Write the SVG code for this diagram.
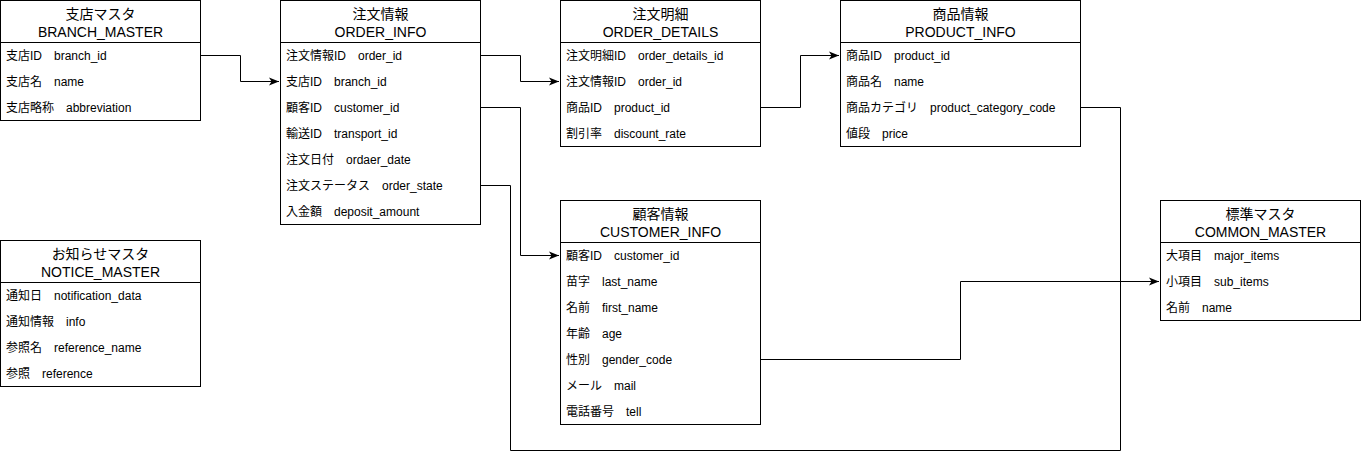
<svg xmlns="http://www.w3.org/2000/svg" width="1361" height="459" viewBox="0 0 1361 459">
<style>
.box{fill:#fff;stroke:#000;stroke-width:1}
.sep{stroke:#000;stroke-width:1}
.t{font-family:"Liberation Sans","Noto Sans CJK JP",sans-serif;font-size:12px;fill:#000}
.h{text-anchor:middle;font-size:14px}
.c{fill:none;stroke:#000;stroke-width:1}
</style>
<defs>
<marker id="arr" viewBox="0 0 10 10" refX="10" refY="5" markerWidth="10" markerHeight="10" markerUnits="userSpaceOnUse" orient="auto">
<path d="M0,1 L10,5 L0,9 L2.5,5 Z" fill="#000"/>
</marker>
</defs>
<rect width="1361" height="459" fill="#fff"/>
<g id="connectors">
<path class="c" d="M200.5,55.5 H240.5 V81.5 H279" marker-end="url(#arr)"/>
<path class="c" d="M480.5,55.5 H520.5 V81.5 H559" marker-end="url(#arr)"/>
<path class="c" d="M480.5,107.5 H520.5 V255.5 H559" marker-end="url(#arr)"/>
<path class="c" d="M760.5,107.5 H800.5 V55.5 H839" marker-end="url(#arr)"/>
<path class="c" d="M480.5,185.5 H510.5 V450.5 H1120.5 V107.5 H1080.5"/>
<path class="c" d="M760.5,359.5 H960.5 V281.5 H1159" marker-end="url(#arr)"/>
</g>
<g id="branch_master">
<rect class="box" x="0.5" y="0.5" width="200" height="120"/>
<line class="sep" x1="0.5" y1="42.5" x2="200.5" y2="42.5"/>
<text class="t h" x="100.5" y="19">支店マスタ</text>
<text class="t h" x="100.5" y="36.5">BRANCH_MASTER</text>
<text class="t" x="6" y="60">支店ID　branch_id</text>
<text class="t" x="6" y="86">支店名　name</text>
<text class="t" x="6" y="112">支店略称　abbreviation</text>
</g>
<g id="order_info">
<rect class="box" x="280.5" y="0.5" width="200" height="224"/>
<line class="sep" x1="280.5" y1="42.5" x2="480.5" y2="42.5"/>
<text class="t h" x="380.5" y="19">注文情報</text>
<text class="t h" x="380.5" y="36.5">ORDER_INFO</text>
<text class="t" x="286" y="60">注文情報ID　order_id</text>
<text class="t" x="286" y="86">支店ID　branch_id</text>
<text class="t" x="286" y="112">顧客ID　customer_id</text>
<text class="t" x="286" y="138">輸送ID　transport_id</text>
<text class="t" x="286" y="164">注文日付　ordaer_date</text>
<text class="t" x="286" y="190">注文ステータス　order_state</text>
<text class="t" x="286" y="216">入金額　deposit_amount</text>
</g>
<g id="order_details">
<rect class="box" x="560.5" y="0.5" width="200" height="146"/>
<line class="sep" x1="560.5" y1="42.5" x2="760.5" y2="42.5"/>
<text class="t h" x="660.5" y="19">注文明細</text>
<text class="t h" x="660.5" y="36.5">ORDER_DETAILS</text>
<text class="t" x="566" y="60">注文明細ID　order_details_id</text>
<text class="t" x="566" y="86">注文情報ID　order_id</text>
<text class="t" x="566" y="112">商品ID　product_id</text>
<text class="t" x="566" y="138">割引率　discount_rate</text>
</g>
<g id="product_info">
<rect class="box" x="840.5" y="0.5" width="240" height="146"/>
<line class="sep" x1="840.5" y1="42.5" x2="1080.5" y2="42.5"/>
<text class="t h" x="960.5" y="19">商品情報</text>
<text class="t h" x="960.5" y="36.5">PRODUCT_INFO</text>
<text class="t" x="846" y="60">商品ID　product_id</text>
<text class="t" x="846" y="86">商品名　name</text>
<text class="t" x="846" y="112">商品カテゴリ　product_category_code</text>
<text class="t" x="846" y="138">値段　price</text>
</g>
<g id="customer_info">
<rect class="box" x="560.5" y="200.5" width="200" height="224"/>
<line class="sep" x1="560.5" y1="242.5" x2="760.5" y2="242.5"/>
<text class="t h" x="660.5" y="219">顧客情報</text>
<text class="t h" x="660.5" y="236.5">CUSTOMER_INFO</text>
<text class="t" x="566" y="260">顧客ID　customer_id</text>
<text class="t" x="566" y="286">苗字　last_name</text>
<text class="t" x="566" y="312">名前　first_name</text>
<text class="t" x="566" y="338">年齢　age</text>
<text class="t" x="566" y="364">性別　gender_code</text>
<text class="t" x="566" y="390">メール　mail</text>
<text class="t" x="566" y="416">電話番号　tell</text>
</g>
<g id="common_master">
<rect class="box" x="1160.5" y="200.5" width="200" height="120"/>
<line class="sep" x1="1160.5" y1="242.5" x2="1360.5" y2="242.5"/>
<text class="t h" x="1260.5" y="219">標準マスタ</text>
<text class="t h" x="1260.5" y="236.5">COMMON_MASTER</text>
<text class="t" x="1166" y="260">大項目　major_items</text>
<text class="t" x="1166" y="286">小項目　sub_items</text>
<text class="t" x="1166" y="312">名前　name</text>
</g>
<g id="notice_master">
<rect class="box" x="0.5" y="240.5" width="200" height="146"/>
<line class="sep" x1="0.5" y1="282.5" x2="200.5" y2="282.5"/>
<text class="t h" x="100.5" y="259">お知らせマスタ</text>
<text class="t h" x="100.5" y="276.5">NOTICE_MASTER</text>
<text class="t" x="6" y="300">通知日　notification_data</text>
<text class="t" x="6" y="326">通知情報　info</text>
<text class="t" x="6" y="352">参照名　reference_name</text>
<text class="t" x="6" y="378">参照　reference</text>
</g>
</svg>
